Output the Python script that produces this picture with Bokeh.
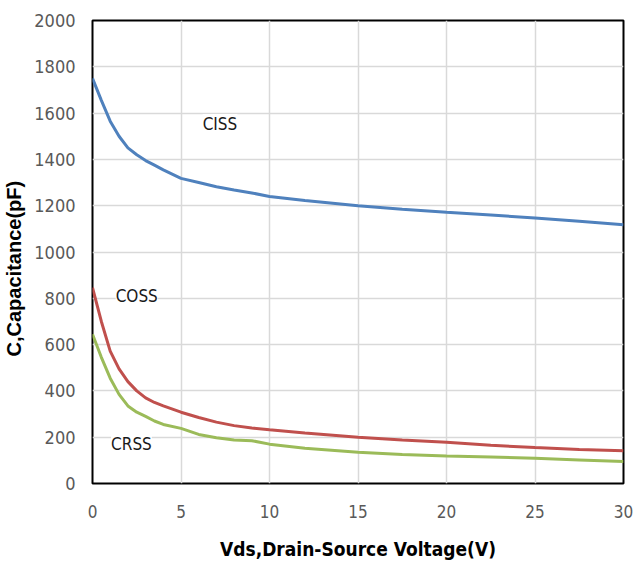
from bokeh.plotting import figure
from bokeh.models import Label, FixedTicker, Range1d
from bokeh.embed import file_html
from bokeh.resources import INLINE

# Data
vds = [0, 0.5, 1, 1.5, 2, 2.5, 3, 3.5, 4, 5, 6, 7, 8, 9, 10, 12, 15, 17.5, 20, 22.5, 25, 27.5, 30]
ciss = [1750, 1655, 1565, 1500, 1450, 1420, 1395, 1375, 1355, 1318, 1300, 1282, 1268, 1255, 1240, 1222, 1200, 1185, 1172, 1160, 1147, 1133, 1118]
coss = [846, 700, 572, 495, 440, 400, 370, 350, 335, 308, 285, 265, 250, 240, 232, 218, 200, 188, 178, 165, 155, 147, 142]
crss = [645, 545, 455, 385, 335, 308, 290, 270, 255, 238, 212, 198, 188, 185, 170, 152, 135, 125, 119, 115, 109, 102, 95]

x_ticks = [0, 5, 10, 15, 20, 25, 30]
y_ticks = [0, 200, 400, 600, 800, 1000, 1200, 1400, 1600, 1800, 2000]

labels = ["CISS", "COSS", "CRSS"]
label_x = [7.2, 2.5, 2.2]
label_y = [1553, 810, 169]

p = figure(width=633, height=567, output_backend="svg", toolbar_location=None,
           x_range=Range1d(0, 30), y_range=Range1d(0, 2000),
           min_border_left=91, min_border_right=10, min_border_top=20, min_border_bottom=84)

p.outline_line_color = "black"
p.outline_line_width = 2
p.background_fill_color = "white"
p.border_fill_color = "white"

p.xaxis.ticker = FixedTicker(ticks=x_ticks)
p.yaxis.ticker = FixedTicker(ticks=y_ticks)
for ax in (p.xaxis[0], p.yaxis[0]):
    ax.axis_line_color = None
    ax.major_tick_line_color = None
    ax.minor_tick_line_color = None
    ax.major_label_text_font = "DejaVu Sans Condensed"
    ax.major_label_text_font_size = "17px"
    ax.major_label_text_color = "#595959"
p.yaxis.major_label_text_font_size = "18px"
p.yaxis.major_label_standoff = 11
p.xaxis.major_label_standoff = 15

p.xaxis.axis_label = "Vds,Drain-Source Voltage(V)"
p.xaxis.axis_label_text_font = "DejaVu Sans Condensed"
p.xaxis.axis_label_text_font_style = "bold"
p.xaxis.axis_label_text_font_size = "19px"
p.xaxis.axis_label_text_color = "black"
p.xaxis.axis_label_standoff = 17

p.yaxis.axis_label = "C,Capacitance(pF)" + "\u00a0" * 6
p.yaxis.axis_label_text_font = "Liberation Sans"
p.yaxis.axis_label_text_font_style = "bold"
p.yaxis.axis_label_text_font_size = "20px"
p.yaxis.axis_label_text_color = "black"
p.yaxis.axis_label_standoff = 6

p.xgrid.grid_line_color = "#d9d9d9"
p.ygrid.grid_line_color = "#d9d9d9"
p.xgrid.grid_line_width = 1.5
p.ygrid.grid_line_width = 1.5

p.line(vds, ciss, line_color="#4f81bd", line_width=3)
p.line(vds, coss, line_color="#c0504d", line_width=3)
p.line(vds, crss, line_color="#9bbb59", line_width=3)

for t, lx, ly in zip(labels, label_x, label_y):
    p.add_layout(Label(x=lx, y=ly, text=t, text_font="DejaVu Sans Condensed",
                       text_font_size="17px", text_color="#1a1a1a",
                       text_align="center", text_baseline="middle",
                       background_fill_color="white", border_line_color=None))

open("out.html", "w").write(file_html(p, INLINE))
